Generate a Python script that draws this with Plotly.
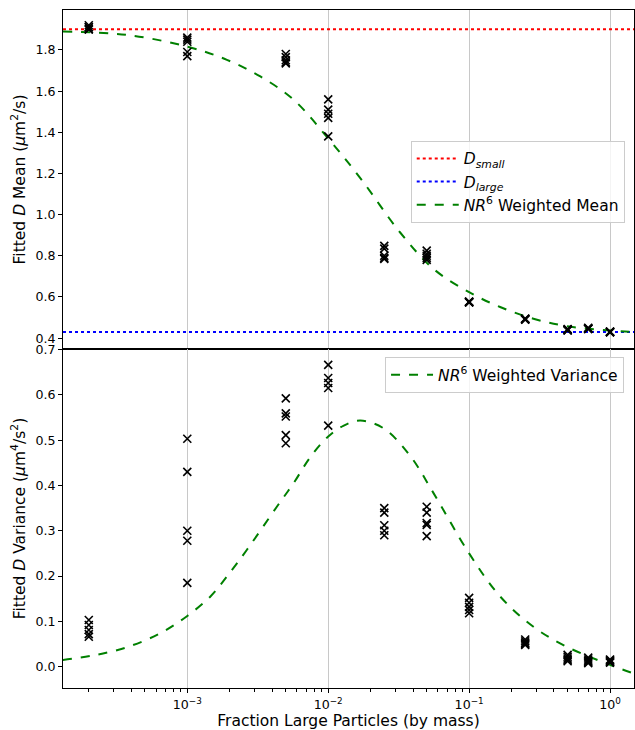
import numpy as np
import plotly.graph_objects as go
from plotly.subplots import make_subplots

# ---------------- data ----------------
D_small = 1.90
D_large = 0.430

# measured points: fraction of large particles, fitted mean, fitted variance
frac_levels = [2e-4, 1e-3, 5e-3, 1e-2, 2.5e-2, 5e-2, 0.1, 0.25, 0.5, 0.7, 1.0]

mean_vals = [
    [1.92, 1.91, 1.90, 1.90, 1.91],
    [1.86, 1.85, 1.84, 1.79, 1.77],
    [1.78, 1.765, 1.75, 1.74, 1.735],
    [1.56, 1.51, 1.49, 1.47, 1.38],
    [0.848, 0.835, 0.80, 0.79, 0.785],
    [0.825, 0.81, 0.80, 0.79, 0.78],
    [0.578, 0.575, 0.574, 0.573, 0.576],
    [0.495, 0.492, 0.490, 0.493, 0.491],
    [0.444, 0.441, 0.438, 0.440, 0.437],
    [0.450, 0.447, 0.445, 0.446, 0.444],
    [0.432, 0.430, 0.428, 0.429, 0.431],
]

var_vals = [
    [0.103, 0.092, 0.081, 0.072, 0.066],
    [0.503, 0.430, 0.300, 0.278, 0.185],
    [0.592, 0.559, 0.552, 0.511, 0.493],
    [0.666, 0.637, 0.626, 0.615, 0.532],
    [0.350, 0.340, 0.312, 0.300, 0.290],
    [0.353, 0.340, 0.317, 0.313, 0.288],
    [0.152, 0.141, 0.132, 0.125, 0.118],
    [0.060, 0.056, 0.052, 0.050, 0.048],
    [0.026, 0.022, 0.018, 0.015, 0.012],
    [0.020, 0.016, 0.013, 0.010, 0.008],
    [0.016, 0.014, 0.012, 0.010, 0.009],
]

# model curves
curve_mean_x = [1.31e-4, 3.73e-4, 1e-3, 1.91e-3, 3.30e-3, 5.68e-3, 1e-2,
                1.70e-2, 3.24e-2, 5.59e-2, 0.1, 0.166, 0.286,
                0.493, 1.0, 1.48]
curve_mean_y = [1.889, 1.873, 1.816, 1.752, 1.671, 1.558, 1.370,
                1.175, 0.913, 0.736, 0.623, 0.551, 0.494,
                0.458, 0.437, 0.429]

curve_var_x = [1.31e-4, 2.16e-4, 3.73e-4, 6.44e-4, 1e-3, 1.46e-3, 1.91e-3,
               2.65e-3, 4.32e-3, 5.68e-3, 7.45e-3, 1e-2, 1.29e-2, 1.69e-2,
               2.47e-2, 3.82e-2, 5.59e-2, 0.1, 0.166, 0.286, 0.493, 1.0, 1.48]
curve_var_y = [0.015, 0.025, 0.043, 0.074, 0.112, 0.155, 0.199,
               0.258, 0.353, 0.405, 0.462, 0.508, 0.532, 0.543,
               0.526, 0.465, 0.383, 0.250, 0.155, 0.088, 0.044, 0.004, -0.015]

x_range_log = [-3.882, 0.170]
y_range_mean = [0.347, 1.994]
y_range_var = [-0.047, 0.701]

decades = [1e-3, 1e-2, 1e-1, 1.0]
decade_labels = ["10<sup>−3</sup>", "10<sup>−2</sup>", "10<sup>−1</sup>", "10<sup>0</sup>"]
minor_vals = [m * 10.0 ** e for e in range(-4, 1) for m in range(2, 10)]

# ---------------- figure ----------------
fig = make_subplots(rows=2, cols=1, shared_xaxes=True, vertical_spacing=0)

pts_x = [f for f, vals in zip(frac_levels, mean_vals) for _ in vals]
pts_mean = [v for vals in mean_vals for v in vals]
pts_var = [v for vals in var_vals for v in vals]

marker = dict(symbol="x-thin", size=8, color="black",
              line=dict(color="black", width=1.6))

x_lo, x_hi = 10 ** x_range_log[0], 10 ** x_range_log[1]

fig.add_trace(go.Scatter(x=[x_lo, x_hi], y=[D_small, D_small], mode="lines",
                         line=dict(color="red", width=2, dash="dot"),
                         name="<i>D</i><sub><i>small</i></sub>", legend="legend"),
              row=1, col=1)
fig.add_trace(go.Scatter(x=[x_lo, x_hi], y=[D_large, D_large], mode="lines",
                         line=dict(color="blue", width=2, dash="dot"),
                         name="<i>D</i><sub><i>large</i></sub>", legend="legend"),
              row=1, col=1)
fig.add_trace(go.Scatter(x=curve_mean_x, y=curve_mean_y, mode="lines",
                         line=dict(color="green", width=2, dash="dash",
                                   shape="spline", smoothing=1.0),
                         name="<i>NR</i><sup>6</sup> Weighted Mean", legend="legend"),
              row=1, col=1)
fig.add_trace(go.Scatter(x=pts_x, y=pts_mean, mode="markers", marker=marker,
                         showlegend=False), row=1, col=1)

fig.add_trace(go.Scatter(x=curve_var_x, y=curve_var_y, mode="lines",
                         line=dict(color="green", width=2, dash="dash",
                                   shape="spline", smoothing=1.0),
                         name="<i>NR</i><sup>6</sup> Weighted Variance", legend="legend2"),
              row=2, col=1)
fig.add_trace(go.Scatter(x=pts_x, y=pts_var, mode="markers", marker=marker,
                         showlegend=False), row=2, col=1)

font_family = "DejaVu Sans"
axis_common = dict(showline=True, linecolor="black", linewidth=1, mirror=True,
                   ticks="outside", ticklen=4, tickcolor="black",
                   tickfont=dict(size=12.6, color="black"))

fig.update_xaxes(type="log", range=x_range_log, tickmode="array",
                 tickvals=decades, ticktext=decade_labels,
                 showgrid=True, gridcolor="#c8c8c8", gridwidth=1, zeroline=False,
                 **axis_common)
fig.update_xaxes(showticklabels=False, row=1, col=1)
fig.update_xaxes(minor=dict(ticks="outside", ticklen=2.5, tickcolor="black",
                            tickmode="array", tickvals=minor_vals, showgrid=False),
                 ticklabelstandoff=1,
                 title=dict(text="Fraction Large Particles (by mass)",
                            font=dict(size=15.5, color="black"), standoff=1),
                 row=2, col=1)

fig.update_yaxes(showgrid=False, zeroline=False, **axis_common)
fig.update_yaxes(range=y_range_mean, tickmode="array",
                 tickvals=[0.4, 0.6, 0.8, 1.0, 1.2, 1.4, 1.6, 1.8],
                 ticktext=["0.4", "0.6", "0.8", "1.0", "1.2", "1.4", "1.6", "1.8"],
                 title=dict(text="Fitted <i>D</i> Mean (<i>μ</i>m<sup>2</sup>/s)",
                            font=dict(size=15.5, color="black"), standoff=6),
                 domain=[0.5, 1.0], row=1, col=1)
fig.update_yaxes(range=y_range_var, tickmode="array",
                 tickvals=[0.0, 0.1, 0.2, 0.3, 0.4, 0.5, 0.6, 0.7],
                 ticktext=["0.0", "0.1", "0.2", "0.3", "0.4", "0.5", "0.6", "0.7"],
                 title=dict(text="Fitted <i>D</i> Variance (<i>μ</i>m<sup>4</sup>/s<sup>2</sup>)",
                            font=dict(size=15.5, color="black"), standoff=6),
                 domain=[0.0, 0.5], row=2, col=1)

legend_style = dict(bgcolor="rgba(255,255,255,0.8)", bordercolor="#cccccc",
                    borderwidth=1, font=dict(size=15.5, color="black"),
                    xanchor="left", yanchor="top", tracegroupgap=0, itemwidth=42)

fig.update_layout(
    width=635, height=730,
    margin=dict(l=63, r=1, t=10, b=42),
    paper_bgcolor="white", plot_bgcolor="white",
    font=dict(family=font_family, color="black"),
    legend=dict(x=0.609, y=0.807, **legend_style),
    legend2=dict(x=0.564, y=0.488, **legend_style),
)

fig.write_html("out.html")
